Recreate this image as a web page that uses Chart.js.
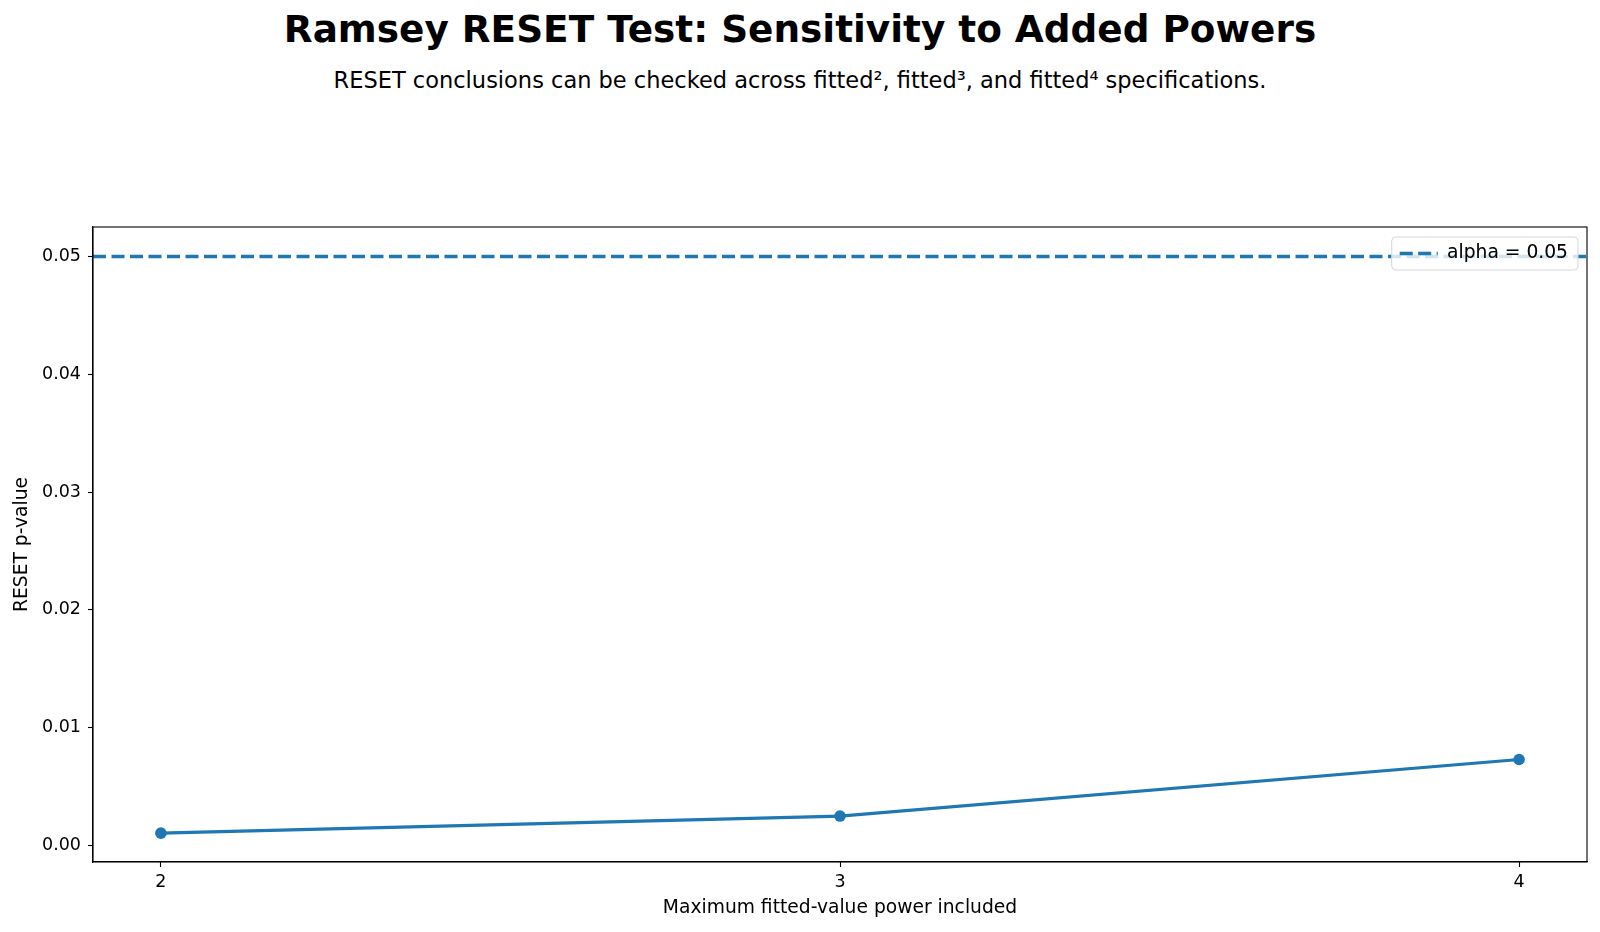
<!DOCTYPE html>
<html>
<head>
<meta charset="utf-8">
<script src="https://cdn.jsdelivr.net/npm/chart.js@4.4.1/dist/chart.umd.min.js"></script>
<style>
  html, body { margin: 0; padding: 0; background: #fff; }
  #wrap { position: relative; width: 1600px; height: 932px; font-family: "DejaVu Sans", sans-serif; }
  #ttl { position: absolute; left: 0; width: 1600px; top: 6.5px; text-align: center; font-weight: bold; font-size: 37.4px; line-height: 44px; color: #000; }
  #sub { position: absolute; left: 0; width: 1600px; top: 66.5px; text-align: center; font-size: 22.5px; line-height: 27px; color: #000; }
  canvas { position: absolute; left: 0; top: 0; }
</style>
</head>
<body>
<div id="wrap">
  <div id="ttl">Ramsey RESET Test: Sensitivity to Added Powers</div>
  <div id="sub">RESET conclusions can be checked across fitted², fitted³, and fitted⁴ specifications.</div>
  <canvas id="resetGraph" width="1600" height="932"></canvas>
</div>
<script>
// potencias maximas incluidas y p-values del test RESET
var powers = [2, 3, 4];
var pValues = [0.00105, 0.0025, 0.0073];
var alphaLevel = 0.05;
var alphaLabel = 'alpha = 0.05';
var xTicks = [2, 3, 4];
var yTicks = [0.00, 0.01, 0.02, 0.03, 0.04, 0.05];
var xMin = 1.9, xMax = 4.1;
var yMin = -0.0014, yMax = 0.0525;

var azul = '#1f77b4';
var guiones = [13, 5.5];
var fuenteTicks = { family: '"DejaVu Sans", sans-serif', size: 17.5 };
var fuente = { family: '"DejaVu Sans", sans-serif', size: 18.7 };

var puntos = [];
for (var i = 0; i < powers.length; i++) {
  puntos.push({ x: powers[i], y: pValues[i] });
}

// mueve la leyenda a la esquina superior derecha del area
var leyendaPlugin = {
  id: 'leyendaPos',
  afterLayout: function (chart) {
    var lg = chart.legend, a = chart.chartArea;
    if (!lg || !lg.legendHitBoxes || !lg.legendHitBoxes.length) return;
    var hb = lg.legendHitBoxes[0];
    var w = hb.width + 20, h = hb.height + 20;
    lg.left = a.right - 9 - 10 - hb.width - 10;
    lg.top = a.top + 26.5 - 10 - hb.height / 2;
    lg.right = lg.left + w;
    lg.bottom = lg.top + h;
    lg.width = w;
    lg.height = h;
  },
  // marco del area y caja de la leyenda encima de la linea punteada
  afterDatasetsDraw: function (chart) {
    var ctx = chart.ctx, a = chart.chartArea;
    ctx.save();
    ctx.strokeStyle = '#000';
    ctx.lineWidth = 1.1;
    ctx.strokeRect(a.left, a.top, a.right - a.left, a.bottom - a.top);
    var lg = chart.legend;
    if (lg && lg.legendHitBoxes && lg.legendHitBoxes.length) {
      var hb = lg.legendHitBoxes[0];
      var cx = lg.left + 10, cy = lg.top + 10 + hb.height / 2;
      ctx.beginPath();
      ctx.roundRect(cx - 8, cy - 16.5, hb.width + 18, 33, 4);
      ctx.fillStyle = 'rgba(255,255,255,0.8)';
      ctx.fill();
      ctx.strokeStyle = '#d6d6d6';
      ctx.lineWidth = 1;
      ctx.stroke();
    }
    ctx.restore();
    if (lg) lg.draw();
  }
};

var ctx = document.getElementById('resetGraph').getContext('2d');
var myChart = new Chart(ctx, {
  type: 'line',
  data: {
    datasets: [{
      label: 'p-value',
      data: puntos,
      borderColor: azul,
      backgroundColor: azul,
      borderWidth: 3.2,
      pointRadius: 5.8,
      pointBorderWidth: 0,
      pointBackgroundColor: azul,
      tension: 0
    }, {
      label: alphaLabel,
      data: [{ x: xMin, y: alphaLevel }, { x: xMax, y: alphaLevel }],
      borderColor: azul,
      backgroundColor: azul,
      borderWidth: 3.4,
      borderDash: guiones,
      pointRadius: 0,
      tension: 0
    }]
  },
  options: {
    responsive: false,
    animation: false,
    devicePixelRatio: 1,
    layout: { padding: { top: 227, right: 13, left: 0, bottom: 0 } },
    plugins: {
      title: { display: false },
      tooltip: { enabled: false },
      legend: {
        position: 'chartArea',
        align: 'start',
        labels: {
          filter: function (item) { return item.datasetIndex === 1; },
          generateLabels: function (chart) {
            var items = Chart.defaults.plugins.legend.labels.generateLabels(chart);
            items.forEach(function (it) {
              var ds = chart.data.datasets[it.datasetIndex];
              it.lineDash = ds.borderDash || [];
              it.lineWidth = ds.borderWidth;
              it.strokeStyle = ds.borderColor;
              it.pointStyle = 'line';
            });
            return items;
          },
          usePointStyle: true,
          pointStyle: 'line',
          pointStyleWidth: 38,
          color: '#000',
          font: fuente,
          padding: 10
        }
      }
    },
    scales: {
      x: {
        type: 'linear',
        min: xMin,
        max: xMax,
        afterFit: function (s) { s.height = 70; },
        afterBuildTicks: function (s) { s.ticks = xTicks.map(function (v) { return { value: v }; }); },
        grid: { display: true, drawOnChartArea: false, drawTicks: true, tickLength: 5, color: '#000', tickWidth: 1.1 },
        border: { display: true, color: '#000', width: 1.1 },
        ticks: { color: '#000', font: fuenteTicks, padding: 5, maxRotation: 0, callback: function (v) { return String(v); } },
        title: { display: true, text: 'Maximum fitted-value power included', color: '#000', font: fuente, padding: { top: 0, bottom: 12.3 } }
      },
      y: {
        type: 'linear',
        min: yMin,
        max: yMax,
        afterFit: function (s) { s.width = 93; },
        afterBuildTicks: function (s) { s.ticks = yTicks.map(function (v) { return { value: v }; }); },
        grid: { display: true, drawOnChartArea: false, drawTicks: true, tickLength: 5, color: '#000', tickWidth: 1.1 },
        border: { display: true, color: '#000', width: 1.1 },
        ticks: { color: '#000', font: fuenteTicks, padding: 7, callback: function (v) { return v.toFixed(2); } },
        title: { display: true, text: 'RESET p-value', color: '#000', font: fuente, padding: { top: 11, bottom: 0 } }
      }
    }
  },
  plugins: [leyendaPlugin]
});
</script>
</body>
</html>
